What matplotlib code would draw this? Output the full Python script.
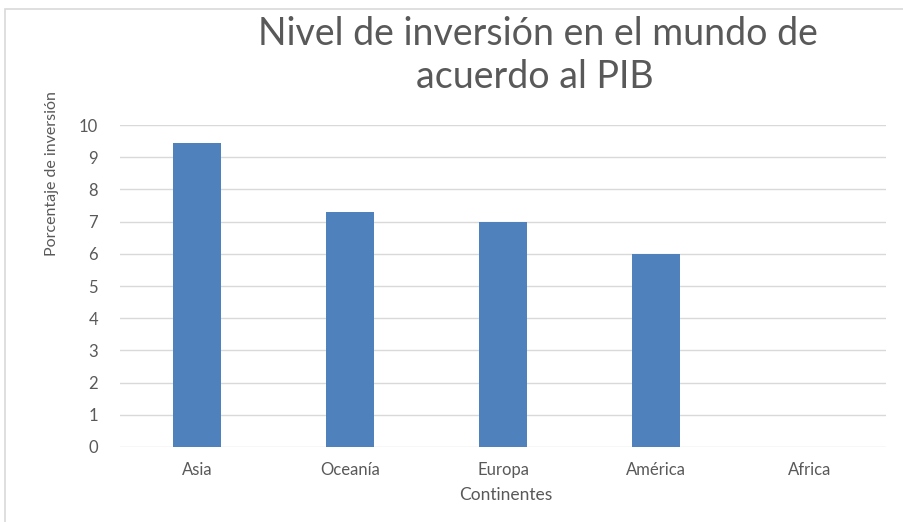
import numpy as np
from matplotlib import pyplot as plt
from matplotlib.patches import Rectangle

continentes = ["Asia", "Oceanía", "Europa", "América", "Africa"]
porcentaje = [9.45, 7.3, 7.0, 6.0, 0]
yticks = list(range(0, 11))

plt.rcParams["font.family"] = ["Lato", "DejaVu Sans"]
gris = "#595959"

fig = plt.figure(figsize=(9.04, 5.22), dpi=100)
ax = fig.add_axes([0.133, 0.1437, 0.847, 0.6168])

x = np.arange(len(continentes))
ax.bar(x, porcentaje, width=0.31, color="#4f81bd", zorder=3)

ax.set_xlim(-0.5, len(continentes) - 0.5)
ax.set_ylim(0, 10)
ax.set_yticks(yticks)
ax.set_xticks(x)
ax.set_xticklabels(continentes)
ax.tick_params(axis="both", length=0, colors=gris, labelsize=12)
ax.tick_params(axis="x", pad=11)
ax.tick_params(axis="y", pad=16)
ax.grid(axis="y", color="#d9d9d9", linewidth=1, zorder=0)
for s in ax.spines.values():
    s.set_visible(False)

fig.text(0.595, 0.934, "Nivel de inversión en el mundo de", ha="center", va="center",
         fontsize=27, color=gris)
fig.text(0.592, 0.853, "acuerdo al PIB", ha="center", va="center",
         fontsize=27, color=gris)
fig.text(0.560, 0.052, "Continentes", ha="center", va="center", fontsize=12.5, color=gris)
fig.text(0.058, 0.668, "Porcentaje de inversión", ha="center", va="center",
         rotation=90, fontsize=11.5, color=gris)

fig.patches.append(Rectangle((0.006, -0.1), 1.2, 1.083, transform=fig.transFigure,
                             fill=False, edgecolor="#d9d9d9", linewidth=1.2))

plt.savefig("out.png", dpi=100)
